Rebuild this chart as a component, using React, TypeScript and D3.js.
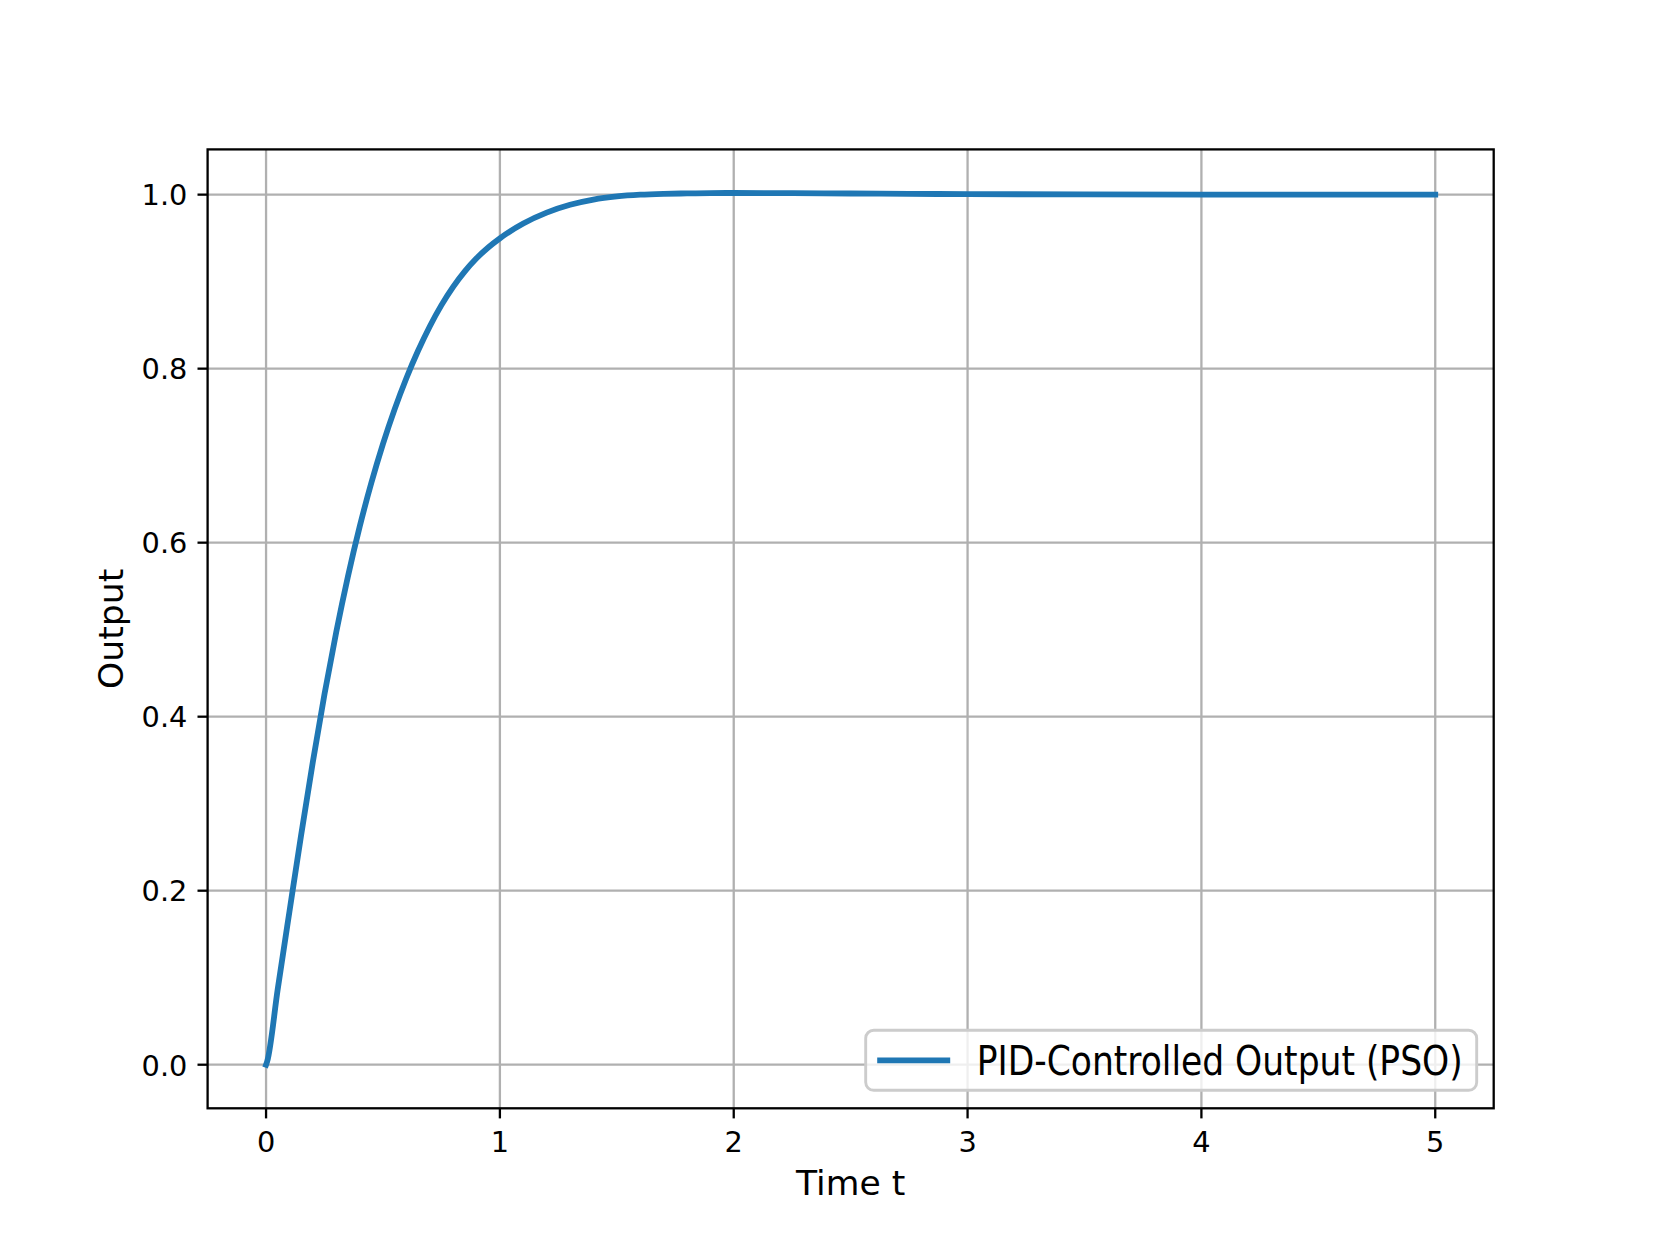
import React, { useEffect, useRef } from 'react';
import * as d3 from 'd3';

// step response
const timeValues = [0, 0.005, 0.05, 0.1, 0.15, 0.2, 0.25, 0.3, 0.35, 0.4, 0.45, 0.5, 0.55, 0.6, 0.65, 0.7, 0.75, 0.8, 0.85, 0.9, 0.95, 1.0, 1.1, 1.2, 1.3, 1.4, 1.5, 1.6, 1.7, 1.8, 1.9, 2.0, 2.25, 2.5, 2.75, 3.0, 3.5, 4.0, 5.0];
const outputValues = [0, 0.004, 0.087, 0.176, 0.264, 0.348, 0.426, 0.497, 0.561, 0.618, 0.6685, 0.7135, 0.7535, 0.789, 0.8205, 0.8485, 0.873, 0.894, 0.9118, 0.9268, 0.9393, 0.9498, 0.9668, 0.9793, 0.9883, 0.9943, 0.9979, 0.9999, 1.0009, 1.0014, 1.0017, 1.0019, 1.0017, 1.0013, 1.0009, 1.0006, 1.0002, 1.0, 1.0];

const xTicks = [0, 1, 2, 3, 4, 5];
const yTicks = [0.0, 0.2, 0.4, 0.6, 0.8, 1.0];
const seriesLabel = 'PID-Controlled Output (PSO)';

const App = () => {
    const ref = useRef<SVGSVGElement>(null);

    useEffect(() => {
        const W = 1661, H = 1246;
        const left = 207.6, right = 1493.7, top = 149.4, bottom = 1108.3;
        const font = 'DejaVu Sans';

        const svg = d3.select(ref.current);
        svg.selectAll('*').remove();

        const data = timeValues.map((t, i) => ({ t, y: outputValues[i] }));

        // matplotlib style 5% margins
        const [x0, x1] = d3.extent(timeValues) as [number, number];
        const [y0, y1] = d3.extent(outputValues) as [number, number];
        const xm = (x1 - x0) * 0.05, ym = (y1 - y0) * 0.05;

        const x = d3.scaleLinear().domain([x0 - xm, x1 + xm]).range([left, right]);
        const y = d3.scaleLinear().domain([y0 - ym, y1 + ym]).range([bottom, top]);

        svg.append('rect').attr('width', W).attr('height', H).attr('fill', 'white');

        // grid
        const grid = svg.append('g').attr('stroke', '#b0b0b0').attr('stroke-width', 2.3);
        grid.selectAll('.vg').data(xTicks).enter().append('line')
            .attr('x1', d => x(d)).attr('x2', d => x(d))
            .attr('y1', top).attr('y2', bottom);
        grid.selectAll('.hg').data(yTicks).enter().append('line')
            .attr('x1', left).attr('x2', right)
            .attr('y1', d => y(d)).attr('y2', d => y(d));

        // the response curve
        const line = d3.line<{ t: number, y: number }>()
            .x(d => x(d.t))
            .y(d => y(d.y))
            .curve(d3.curveMonotoneX);

        svg.append('path')
            .datum(data)
            .attr('d', line)
            .attr('fill', 'none')
            .attr('stroke', '#1f77b4')
            .attr('stroke-width', 5.8)
            .attr('stroke-linejoin', 'round')
            .attr('stroke-linecap', 'square');

        // spines
        svg.append('rect')
            .attr('x', left).attr('y', top)
            .attr('width', right - left).attr('height', bottom - top)
            .attr('fill', 'none').attr('stroke', 'black').attr('stroke-width', 2.3);

        // ticks and tick labels
        const tickLen = 10.1;
        const xt = svg.append('g');
        xt.selectAll('line').data(xTicks).enter().append('line')
            .attr('x1', d => x(d)).attr('x2', d => x(d))
            .attr('y1', bottom).attr('y2', bottom + tickLen)
            .attr('stroke', 'black').attr('stroke-width', 2.3);
        xt.selectAll('text').data(xTicks).enter().append('text')
            .attr('x', d => x(d)).attr('y', 1151.5)
            .attr('text-anchor', 'middle')
            .attr('font-family', font).attr('font-size', 28.8)
            .text(d => d3.format('d')(d));

        const yt = svg.append('g');
        yt.selectAll('line').data(yTicks).enter().append('line')
            .attr('x1', left - tickLen).attr('x2', left)
            .attr('y1', d => y(d)).attr('y2', d => y(d))
            .attr('stroke', 'black').attr('stroke-width', 2.3);
        yt.selectAll('text').data(yTicks).enter().append('text')
            .attr('x', left - tickLen - 10.1).attr('y', d => y(d) + 10.8)
            .attr('text-anchor', 'end')
            .attr('font-family', font).attr('font-size', 28.8)
            .text(d => d3.format('.1f')(d));

        // axis labels
        svg.append('text')
            .attr('x', (left + right) / 2).attr('y', 1195)
            .attr('text-anchor', 'middle')
            .attr('font-family', font).attr('font-size', 34.6)
            .text('Time t');
        svg.append('text')
            .attr('transform', `translate(123.3,${(top + bottom) / 2}) rotate(-90)`)
            .attr('text-anchor', 'middle')
            .attr('font-family', font).attr('font-size', 34.6)
            .text('Output');

        // legend, lower right
        const lg = svg.append('g');
        const lgRight = right - 17, lgBottom = bottom - 18;
        const lgW = 611, lgH = 60;
        lg.append('rect')
            .attr('x', lgRight - lgW).attr('y', lgBottom - lgH)
            .attr('width', lgW).attr('height', lgH)
            .attr('rx', 8)
            .attr('fill', 'white').attr('fill-opacity', 0.8)
            .attr('stroke', '#cccccc').attr('stroke-width', 2.9);
        const ly = lgBottom - lgH / 2;
        lg.append('line')
            .attr('x1', lgRight - lgW + 11.5).attr('x2', lgRight - lgW + 84.5)
            .attr('y1', ly).attr('y2', ly)
            .attr('stroke', '#1f77b4').attr('stroke-width', 5.8);
        lg.append('text')
            .attr('x', lgRight - lgW + 111).attr('y', ly + 14.5)
            .attr('font-family', font).attr('font-size', 40.4)
            .attr('textLength', 486)
            .attr('lengthAdjust', 'spacingAndGlyphs')
            .text(seriesLabel);
    }, []);

    return (
        <div style={{ position: 'absolute', left: 0, top: 0 }}>
            <svg ref={ref} width={1661} height={1246} style={{ display: 'block' }} />
        </div>
    );
};

export default App;
